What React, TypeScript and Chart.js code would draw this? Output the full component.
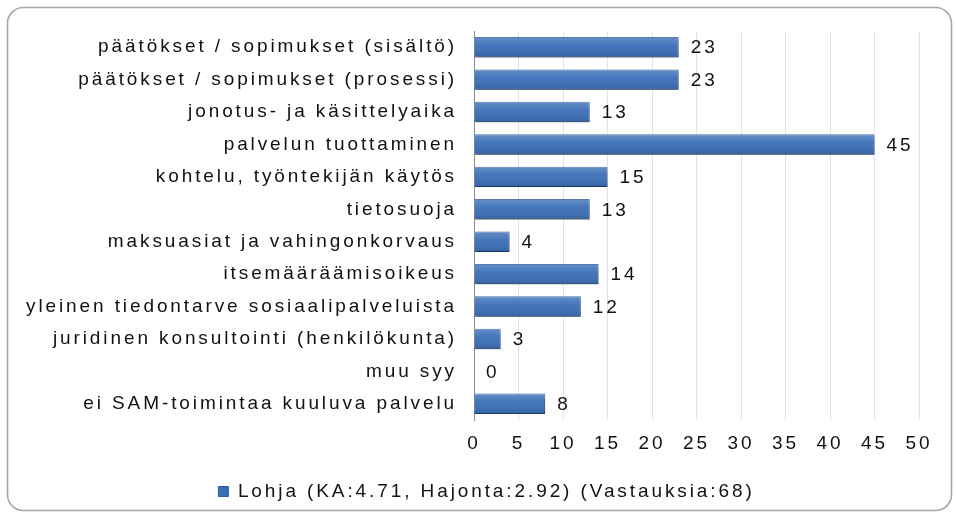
import React, { useEffect, useRef } from 'react';
import { Chart, registerables } from 'chart.js';

Chart.register(...registerables);

const categories = [
  'päätökset / sopimukset (sisältö)',
  'päätökset / sopimukset (prosessi)',
  'jonotus- ja käsittelyaika',
  'palvelun tuottaminen',
  'kohtelu, työntekijän käytös',
  'tietosuoja',
  'maksuasiat ja vahingonkorvaus',
  'itsemääräämisoikeus',
  'yleinen tiedontarve sosiaalipalveluista',
  'juridinen konsultointi (henkilökunta)',
  'muu syy',
  'ei SAM-toimintaa kuuluva palvelu',
];
const values = [23, 23, 13, 45, 15, 13, 4, 14, 12, 3, 0, 8];
const seriesLabel = 'Lohja (KA:4.71, Hajonta:2.92) (Vastauksia:68)';
const xMin = 0;
const xMax = 50;
const xStep = 5;

const FONT = '"Liberation Sans", Arial, sans-serif';
const FONT_SIZE = 19;
const SPACING = '2.9px';
const TEXT = '#111111';

const spacingPlugin = {
  id: 'spacing',
  beforeLayout(chart: any) {
    chart.ctx.letterSpacing = SPACING;
  },
  afterLayout(chart: any) {
    if (chart.legend) {
      chart.legend.left += 44;
    }
  },
  beforeDraw(chart: any) {
    chart.ctx.letterSpacing = SPACING;
  },
};

const framePlugin = {
  id: 'frame',
  beforeDraw(chart: any) {
    const ctx = chart.ctx;
    ctx.save();
    ctx.strokeStyle = '#a8a8a8';
    ctx.lineWidth = 1.6;
    ctx.beginPath();
    ctx.roundRect(7.5, 7.5, 944, 503, 16);
    ctx.stroke();
    ctx.restore();
  },
};

const shadowPlugin = {
  id: 'barShadow',
  beforeDatasetsDraw(chart: any) {
    const ctx = chart.ctx;
    ctx.save();
    ctx.shadowColor = 'rgba(0,0,0,0.35)';
    ctx.shadowBlur = 3;
    ctx.shadowOffsetX = 1.5;
    ctx.shadowOffsetY = 2;
  },
  afterDatasetsDraw(chart: any) {
    const ctx = chart.ctx;
    ctx.restore();
    const meta = chart.getDatasetMeta(0);
    ctx.save();
    meta.data.forEach((el: any) => {
      const { x, y, base, height } = el.getProps(['x', 'y', 'base', 'height'], true);
      const w = x - base;
      if (w <= 0) return;
      const top = y - height / 2;
      const g = ctx.createLinearGradient(0, top, 0, top + height);
      g.addColorStop(0, 'rgba(255,255,255,0.22)');
      g.addColorStop(0.45, 'rgba(255,255,255,0.04)');
      g.addColorStop(1, 'rgba(0,0,0,0.14)');
      ctx.fillStyle = g;
      ctx.fillRect(base, top, w, height);
    });
    ctx.restore();
  },
};

const valueLabelPlugin = {
  id: 'valueLabels',
  afterDatasetsDraw(chart: any) {
    const ctx = chart.ctx;
    const meta = chart.getDatasetMeta(0);
    const data = chart.data.datasets[0].data as number[];
    ctx.save();
    ctx.font = `${FONT_SIZE}px ${FONT}`;
    ctx.fillStyle = TEXT;
    ctx.textAlign = 'left';
    ctx.textBaseline = 'middle';
    meta.data.forEach((el: any, i: number) => {
      ctx.fillText(String(data[i]), el.x + 12, el.y + 1);
    });
    ctx.restore();
  },
};

export default function App() {
  const canvasRef = useRef<HTMLCanvasElement | null>(null);

  useEffect(() => {
    if (!canvasRef.current) return;
    const chart = new Chart(canvasRef.current, {
      type: 'bar',
      data: {
        labels: categories,
        datasets: [
          {
            label: seriesLabel,
            data: values,
            backgroundColor: '#3a6fb7',
            borderColor: '#2c5b9b',
            borderWidth: 1,
            categoryPercentage: 1,
            barPercentage: 0.63,
          },
        ],
      },
      options: {
        indexAxis: 'y',
        animation: false,
        responsive: true,
        maintainAspectRatio: false,
        layout: { padding: { left: 10, right: 38, top: 31, bottom: 2 } },
        scales: {
          x: {
            min: xMin,
            max: xMax,
            ticks: {
              stepSize: xStep,
              padding: 12,
              color: TEXT,
              font: { family: FONT, size: FONT_SIZE },
            },
            grid: { color: '#dbe3ee', drawTicks: false, lineWidth: 1 },
            border: { display: false },
            afterFit(scale: any) {
              scale.height = 52;
            },
          },
          y: {
            ticks: {
              padding: 17,
              color: TEXT,
              font: { family: FONT, size: FONT_SIZE },
              autoSkip: false,
            },
            grid: { display: false, drawTicks: false },
            border: { display: true, color: '#8a8a8a', width: 1 },
            afterFit(scale: any) {
              scale.width = 464;
            },
          },
        },
        plugins: {
          legend: {
            display: true,
            position: 'bottom',
            labels: {
              boxWidth: 10,
              boxHeight: 10,
              color: TEXT,
              font: { family: FONT, size: FONT_SIZE },
              padding: 10,
            },
          },
          tooltip: { enabled: false },
        },
      },
      plugins: [spacingPlugin, framePlugin, shadowPlugin, valueLabelPlugin],
    });
    return () => chart.destroy();
  }, []);

  return (
    <div style={{ position: 'absolute', left: 0, top: 0, width: 957, height: 513, background: '#fff' }}>
      <canvas ref={canvasRef} />
    </div>
  );
}
